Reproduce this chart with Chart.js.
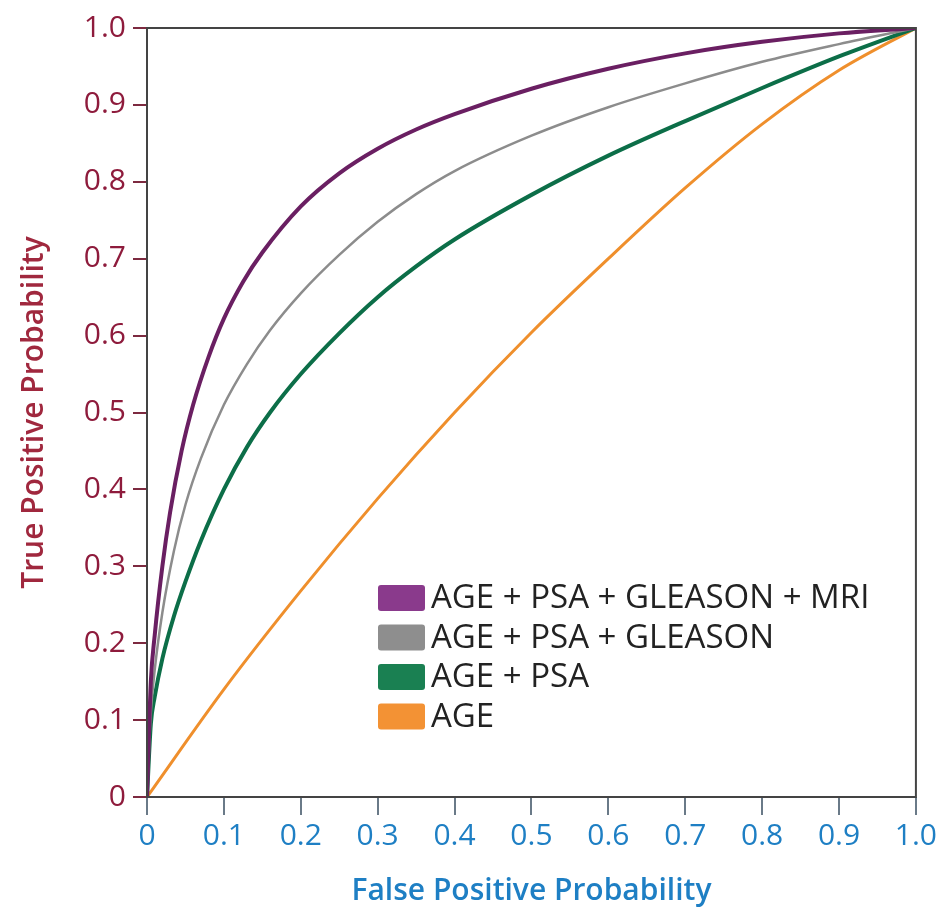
<!DOCTYPE html>
<html>
<head>
<meta charset="utf-8">
<script src="https://cdn.jsdelivr.net/npm/chart.js@4.4.1/dist/chart.umd.min.js"></script>
<style>
html,body{margin:0;padding:0;background:#fff;}
#wrap{position:relative;width:940px;height:909px;}
</style>
</head>
<body>
<div id="wrap"><canvas id="c" width="940" height="909"></canvas></div>
<script>
// ---- data ----
const seriesNames = ["AGE + PSA + GLEASON + MRI", "AGE + PSA + GLEASON", "AGE + PSA", "AGE"];

const mriX = [0, 0.005, 0.01, 0.02, 0.03, 0.045, 0.06, 0.08, 0.1, 0.125, 0.15, 0.2, 0.25, 0.3, 0.35, 0.4, 0.5, 0.6, 0.7, 0.8, 0.9, 1];
const mriY = [0, 0.15, 0.21, 0.30, 0.37, 0.45, 0.51, 0.572, 0.622, 0.67, 0.708, 0.768, 0.811, 0.843, 0.868, 0.888, 0.921, 0.947, 0.967, 0.982, 0.993, 1];

const gleasonX = [0, 0.005, 0.01, 0.02, 0.035, 0.05, 0.07, 0.1, 0.13, 0.16, 0.2, 0.25, 0.3, 0.35, 0.4, 0.5, 0.6, 0.7, 0.8, 0.9, 1];
const gleasonY = [0, 0.11, 0.165, 0.24, 0.32, 0.38, 0.44, 0.51, 0.563, 0.607, 0.655, 0.705, 0.748, 0.784, 0.814, 0.86, 0.897, 0.928, 0.956, 0.979, 1];

const psaX = [0, 0.005, 0.01, 0.02, 0.035, 0.05, 0.07, 0.1, 0.13, 0.16, 0.2, 0.25, 0.3, 0.35, 0.4, 0.5, 0.6, 0.7, 0.8, 0.9, 1];
const psaY = [0, 0.095, 0.13, 0.18, 0.235, 0.28, 0.333, 0.40, 0.455, 0.50, 0.55, 0.603, 0.65, 0.69, 0.725, 0.783, 0.834, 0.879, 0.922, 0.963, 1];

const ageX = [0, 0.1, 0.2, 0.3, 0.4, 0.5, 0.6, 0.7, 0.8, 0.9, 1];
const ageY = [0, 0.14, 0.268, 0.388, 0.50, 0.604, 0.70, 0.792, 0.875, 0.945, 1];

const tickValues = [0, 0.1, 0.2, 0.3, 0.4, 0.5, 0.6, 0.7, 0.8, 0.9, 1];
const xTitle = "False Positive Probability";
const yTitle = "True Positive Probability";

// ---- styling ----
const lineColors = ["#6a1f62", "#8c8c8c", "#0c6e48", "#ef8f2c"];
const swatchColors = ["#8a3a8c", "#8e8e8e", "#1a8052", "#f39234"];
const lineWidths = [4, 2.5, 4, 3];
const FONT = "'Open Sans', 'Noto Sans', sans-serif";

function pts(xs, ys) { return xs.map((x, i) => ({ x: x, y: ys[i] })); }
const seriesData = [pts(mriX, mriY), pts(gleasonX, gleasonY), pts(psaX, psaY), pts(ageX, ageY)];

const datasets = seriesData.map((d, i) => ({
  label: seriesNames[i],
  data: d,
  borderColor: lineColors[i],
  backgroundColor: swatchColors[i],
  borderWidth: lineWidths[i],
  pointRadius: 0,
  fill: false,
  cubicInterpolationMode: 'monotone',
  order: i
}));

function fmt(v) {
  if (Math.abs(v) < 1e-9) return '0';
  if (Math.abs(v - 1) < 1e-9) return '1.0';
  return v.toFixed(1);
}

const framePlugin = {
  id: 'frame',
  afterDatasetsDraw(chart) {
    const a = chart.chartArea, ctx = chart.ctx;
    ctx.save();
    ctx.strokeStyle = '#444';
    ctx.lineWidth = 2;
    ctx.strokeRect(a.left, a.top, a.right - a.left, a.bottom - a.top);
    ctx.restore();
  }
};

const boxLegend = {
  id: 'boxLegend',
  afterDraw(chart) {
    const ctx = chart.ctx;
    const x0 = 378, y0 = 585, rowH = 39.5, sw = 47, sh = 26;
    ctx.save();
    ctx.font = "33px " + FONT;
    ctx.textBaseline = 'middle';
    ctx.textAlign = 'left';
    chart.data.datasets.forEach((ds, i) => {
      const y = y0 + i * rowH;
      ctx.fillStyle = ds.backgroundColor;
      ctx.beginPath();
      ctx.roundRect(x0, y, sw, sh, 3);
      ctx.fill();
      ctx.fillStyle = '#222';
      ctx.fillText(ds.label, x0 + sw + 6, y + sh / 2 + 1);
    });
    ctx.restore();
  }
};

new Chart(document.getElementById('c'), {
  type: 'line',
  data: { datasets: datasets },
  options: {
    responsive: false,
    animation: false,
    layout: { padding: { top: 28, right: 21, left: 0, bottom: 0 } },
    plugins: { legend: { display: false }, tooltip: { enabled: false } },
    scales: {
      x: {
        type: 'linear', min: 0, max: 1,
        afterBuildTicks(axis) { axis.ticks = tickValues.map(v => ({ value: v })); },
        afterFit(axis) { axis.height = 112; },
        grid: { drawOnChartArea: false, drawTicks: true, tickLength: 18, color: '#6a7a88', lineWidth: 2 },
        border: { display: false },
        ticks: { color: '#1e7fc4', font: { family: FONT, size: 30 }, padding: 3, callback: fmt, maxRotation: 0, autoSkip: false },
        title: { display: true, text: xTitle, color: '#1e7fc4', font: { family: FONT, size: 30, weight: '600' }, padding: { top: 2, bottom: 0 } }
      },
      y: {
        type: 'linear', min: 0, max: 1,
        afterBuildTicks(axis) { axis.ticks = tickValues.map(v => ({ value: v })); },
        afterFit(axis) { axis.width = 147; },
        grid: { drawOnChartArea: false, drawTicks: true, tickLength: 14, color: '#7d2a40', lineWidth: 2 },
        border: { display: false },
        ticks: { color: '#8e1b3c', font: { family: FONT, size: 30 }, padding: 7, callback: fmt, autoSkip: false },
        title: { display: true, text: yTitle, color: '#a0283e', font: { family: FONT, size: 30, weight: '600' }, padding: { top: 16, bottom: 0 } }
      }
    }
  },
  plugins: [framePlugin, boxLegend]
});
</script>
</body>
</html>
